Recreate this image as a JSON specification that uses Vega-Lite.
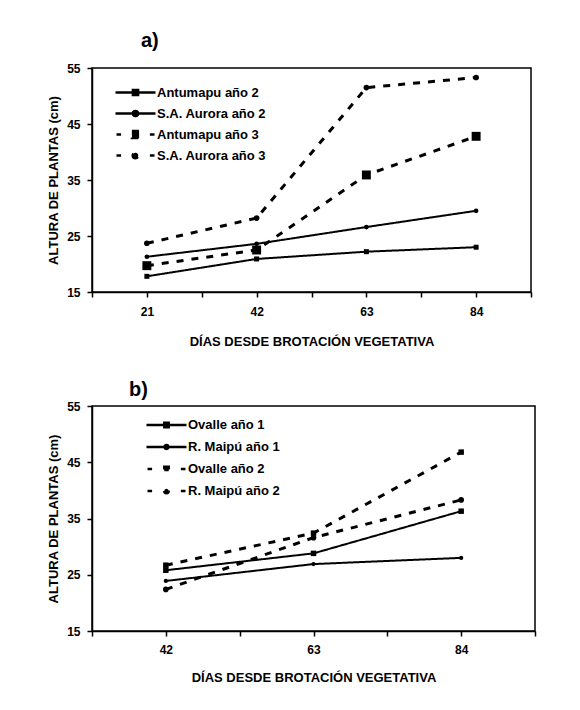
{
  "$schema": "https://vega.github.io/schema/vega-lite/v6.json",
  "background": "white",
  "padding": {"left": 46, "top": 30, "right": 5, "bottom": 5},
  "datasets": {
    "a": [
      {"serie": "Antumapu año 2", "dias": 21, "altura": 17.8},
      {"serie": "Antumapu año 2", "dias": 42, "altura": 20.9},
      {"serie": "Antumapu año 2", "dias": 63, "altura": 22.2},
      {"serie": "Antumapu año 2", "dias": 84, "altura": 23.0},
      {"serie": "S.A. Aurora año 2", "dias": 21, "altura": 21.3},
      {"serie": "S.A. Aurora año 2", "dias": 42, "altura": 23.6},
      {"serie": "S.A. Aurora año 2", "dias": 63, "altura": 26.6},
      {"serie": "S.A. Aurora año 2", "dias": 84, "altura": 29.5},
      {"serie": "Antumapu año 3", "dias": 21, "altura": 19.7},
      {"serie": "Antumapu año 3", "dias": 42, "altura": 22.5},
      {"serie": "Antumapu año 3", "dias": 63, "altura": 35.9},
      {"serie": "Antumapu año 3", "dias": 84, "altura": 42.8},
      {"serie": "S.A. Aurora año 3", "dias": 21, "altura": 23.7},
      {"serie": "S.A. Aurora año 3", "dias": 42, "altura": 28.2},
      {"serie": "S.A. Aurora año 3", "dias": 63, "altura": 51.5},
      {"serie": "S.A. Aurora año 3", "dias": 84, "altura": 53.3}
    ],
    "b": [
      {"serie": "Ovalle año 1", "dias": 42, "altura": 25.8},
      {"serie": "Ovalle año 1", "dias": 63, "altura": 28.8},
      {"serie": "Ovalle año 1", "dias": 84, "altura": 36.3},
      {"serie": "R. Maipú año 1", "dias": 42, "altura": 23.9},
      {"serie": "R. Maipú año 1", "dias": 63, "altura": 26.9},
      {"serie": "R. Maipú año 1", "dias": 84, "altura": 28.0},
      {"serie": "Ovalle año 2", "dias": 42, "altura": 26.7},
      {"serie": "Ovalle año 2", "dias": 63, "altura": 32.4},
      {"serie": "Ovalle año 2", "dias": 84, "altura": 46.8},
      {"serie": "R. Maipú año 2", "dias": 42, "altura": 22.4},
      {"serie": "R. Maipú año 2", "dias": 63, "altura": 31.6},
      {"serie": "R. Maipú año 2", "dias": 84, "altura": 38.3}
    ]
  },
  "columns": 1,
  "spacing": 30,
  "resolve": {
    "scale": {"strokeDash": "independent"},
    "legend": {"strokeDash": "independent"}
  },
  "concat": [
    {
      "width": 439,
      "height": 224,
      "title": {"text": "a)", "anchor": "start", "frame": "group", "dx": 49, "offset": 11, "fontSize": 20, "font": "Liberation Sans", "fontWeight": "bold", "color": "black"},
      "data": {"name": "a"},
      "encoding": {
        "x": {"field": "dias", "type": "quantitative", "scale": {"domain": [10.5, 94.5], "nice": false, "zero": false},
          "axis": {"title": "DÍAS DESDE BROTACIÓN VEGETATIVA", "values": [10.5, 21, 31.5, 42, 52.5, 63, 73.5, 84, 94.5], "labelExpr": "datum.value % 21 === 0 ? datum.label : ''", "labelOverlap": false, "labelFlush": false, "grid": false, "tickSize": 5, "labelPadding": 9, "titlePadding": 18}},
        "y": {"field": "altura", "type": "quantitative", "scale": {"domain": [15, 55], "nice": false, "zero": false},
          "axis": {"title": "ALTURA DE PLANTAS (cm)", "values": [15, 25, 35, 45, 55], "grid": false, "tickSize": 5, "labelPadding": 7, "titlePadding": 6}},
        "strokeDash": {"field": "serie", "type": "nominal",
          "scale": {"domain": ["Antumapu año 2", "S.A. Aurora año 2", "Antumapu año 3", "S.A. Aurora año 3"], "range": [[1, 0], [1, 0], [7, 8], [7, 8]]},
          "legend": {"title": null, "orient": "none", "legendX": 22, "legendY": 15, "padding": 0, "symbolSize": 1600, "clipHeight": 19, "rowPadding": 2, "labelOffset": 0,
            "encode": {"symbols": {"update": {
              "shape": {"signal": "datum.value === 'Antumapu año 2' ? 'M-1,0H1M-0.13,-0.13H0.13V0.13H-0.13Z' : datum.value === 'S.A. Aurora año 2' ? 'M-1,0H1M-0.13,0A0.13,0.13,0,1,0,0.13,0A0.13,0.13,0,1,0,-0.13,0Z' : datum.value === 'Antumapu año 3' ? 'M-0.95,0H-0.72M-0.18,-0.18H0.18V0.18H-0.18ZM0.72,0H0.95' : 'M-0.95,0H-0.72M-0.14,0A0.14,0.14,0,1,0,0.14,0A0.14,0.14,0,1,0,-0.14,0ZM0.72,0H0.95'"},
              "size": {"value": 1600},
              "strokeDash": {"value": [1, 0]},
              "fill": {"value": "black"},
              "fillOpacity": {"value": 1},
              "stroke": {"value": "black"},
              "strokeWidth": {"value": 2.5}
            }}}}}
      },
      "layer": [
        {"transform": [{"filter": {"field": "serie", "oneOf": ["Antumapu año 2", "S.A. Aurora año 2"]}}],
         "mark": {"type": "line", "color": "black", "strokeWidth": 2}},
        {"transform": [{"filter": {"field": "serie", "oneOf": ["Antumapu año 3", "S.A. Aurora año 3"]}}],
         "mark": {"type": "line", "color": "black", "strokeWidth": 3}},
        {"transform": [{"filter": {"field": "serie", "equal": "Antumapu año 2"}}],
         "mark": {"type": "point", "shape": "square", "size": 25, "filled": true, "opacity": 1, "color": "black"},
         "encoding": {"strokeDash": {"value": [1, 0]}}},
        {"transform": [{"filter": {"field": "serie", "equal": "S.A. Aurora año 2"}}],
         "mark": {"type": "point", "shape": "circle", "size": 22, "filled": true, "opacity": 1, "color": "black"},
         "encoding": {"strokeDash": {"value": [1, 0]}}},
        {"transform": [{"filter": {"field": "serie", "equal": "Antumapu año 3"}}],
         "mark": {"type": "point", "shape": "square", "size": 80, "filled": true, "opacity": 1, "color": "black"},
         "encoding": {"strokeDash": {"value": [1, 0]}}},
        {"transform": [{"filter": {"field": "serie", "equal": "S.A. Aurora año 3"}}],
         "mark": {"type": "point", "shape": "circle", "size": 32, "filled": true, "opacity": 1, "color": "black"},
         "encoding": {"strokeDash": {"value": [1, 0]}}}
      ]
    },
    {
      "width": 443,
      "height": 225,
      "title": {"text": "b)", "anchor": "start", "frame": "group", "dx": 37, "offset": 0, "fontSize": 20, "font": "Liberation Sans", "fontWeight": "bold", "color": "black"},
      "data": {"name": "b"},
      "encoding": {
        "x": {"field": "dias", "type": "quantitative", "scale": {"domain": [31.5, 94.5], "nice": false, "zero": false},
          "axis": {"title": "DÍAS DESDE BROTACIÓN VEGETATIVA", "values": [31.5, 42, 52.5, 63, 73.5, 84, 94.5], "labelExpr": "datum.value % 21 === 0 ? datum.label : ''", "labelOverlap": false, "labelFlush": false, "grid": false, "tickSize": 5, "labelPadding": 8, "titlePadding": 16}},
        "y": {"field": "altura", "type": "quantitative", "scale": {"domain": [15, 55], "nice": false, "zero": false},
          "axis": {"title": "ALTURA DE PLANTAS (cm)", "values": [15, 25, 35, 45, 55], "grid": false, "tickSize": 5, "labelPadding": 7, "titlePadding": 6}},
        "strokeDash": {"field": "serie", "type": "nominal",
          "scale": {"domain": ["Ovalle año 1", "R. Maipú año 1", "Ovalle año 2", "R. Maipú año 2"], "range": [[1, 0], [1, 0], [7, 8], [7, 8]]},
          "legend": {"title": null, "orient": "none", "legendX": 53, "legendY": 9, "padding": 0, "symbolSize": 1600, "clipHeight": 20, "rowPadding": 2, "labelOffset": 0,
            "encode": {"symbols": {"update": {
              "shape": {"signal": "datum.value === 'Ovalle año 1' ? 'M-1,0H1M-0.11,-0.11H0.11V0.11H-0.11Z' : datum.value === 'R. Maipú año 1' ? 'M-1,0H1M-0.1,0A0.1,0.1,0,1,0,0.1,0A0.1,0.1,0,1,0,-0.1,0Z' : datum.value === 'Ovalle año 2' ? 'M-0.95,0H-0.72M-0.11,-0.11H0.11V0.11H-0.11ZM0.72,0H0.95' : 'M-0.95,0H-0.72M-0.11,0A0.11,0.11,0,1,0,0.11,0A0.11,0.11,0,1,0,-0.11,0ZM0.72,0H0.95'"},
              "size": {"value": 1600},
              "strokeDash": {"value": [1, 0]},
              "fill": {"value": "black"},
              "fillOpacity": {"value": 1},
              "stroke": {"value": "black"},
              "strokeWidth": {"value": 2.5}
            }}}}}
      },
      "layer": [
        {"transform": [{"filter": {"field": "serie", "oneOf": ["Ovalle año 1", "R. Maipú año 1"]}}],
         "mark": {"type": "line", "color": "black", "strokeWidth": 2}},
        {"transform": [{"filter": {"field": "serie", "oneOf": ["Ovalle año 2", "R. Maipú año 2"]}}],
         "mark": {"type": "line", "color": "black", "strokeWidth": 3}},
        {"transform": [{"filter": {"field": "serie", "equal": "Ovalle año 1"}}],
         "mark": {"type": "point", "shape": "square", "size": 30, "filled": true, "opacity": 1, "color": "black"},
         "encoding": {"strokeDash": {"value": [1, 0]}}},
        {"transform": [{"filter": {"field": "serie", "equal": "R. Maipú año 1"}}],
         "mark": {"type": "point", "shape": "circle", "size": 18, "filled": true, "opacity": 1, "color": "black"},
         "encoding": {"strokeDash": {"value": [1, 0]}}},
        {"transform": [{"filter": {"field": "serie", "equal": "Ovalle año 2"}}],
         "mark": {"type": "point", "shape": "square", "size": 30, "filled": true, "opacity": 1, "color": "black"},
         "encoding": {"strokeDash": {"value": [1, 0]}}},
        {"transform": [{"filter": {"field": "serie", "equal": "R. Maipú año 2"}}],
         "mark": {"type": "point", "shape": "circle", "size": 32, "filled": true, "opacity": 1, "color": "black"},
         "encoding": {"strokeDash": {"value": [1, 0]}}}
      ]
    }
  ],
  "config": {
    "font": "Liberation Sans",
    "view": {"stroke": "black", "strokeWidth": 1.5},
    "axis": {"domainColor": "black", "domainWidth": 1.5, "tickColor": "black", "tickWidth": 1.5, "labelColor": "black", "labelFont": "Liberation Sans", "labelFontWeight": "bold", "labelFontSize": 12, "titleFont": "Liberation Sans", "titleFontWeight": "bold", "titleFontSize": 13, "titleColor": "black"},
    "legend": {"labelFont": "Liberation Sans", "labelFontWeight": "bold", "labelFontSize": 13, "labelColor": "black", "symbolStrokeColor": "black", "symbolFillColor": "black", "symbolStrokeWidth": 2.5}
  }
}
